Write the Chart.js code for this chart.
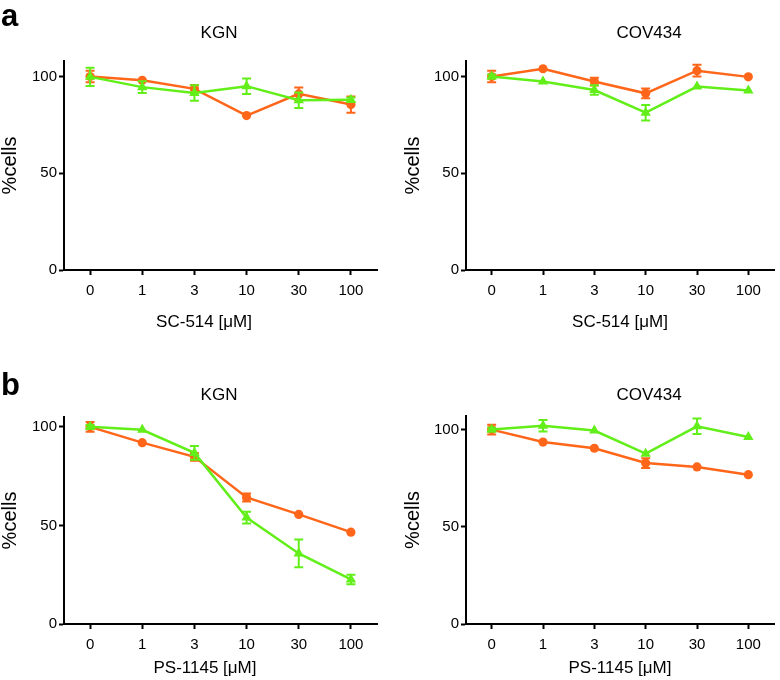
<!DOCTYPE html>
<html>
<head>
<meta charset="utf-8">
<script src="https://cdn.jsdelivr.net/npm/chart.js@4.4.1/dist/chart.umd.min.js"></script>
<style>
  body { margin: 0; background: #fff; font-family: 'Liberation Sans', Arial, sans-serif; }
  #fig { position: relative; width: 780px; height: 680px; overflow: hidden; }
  .panel { position: absolute; }
  .letter { position: absolute; font-weight: bold; font-size: 31px; line-height: 31px; color: #000; }
  .ptitle { position: absolute; width: 200px; text-align: center; font-size: 17px; line-height: 20px; color: #000; white-space: nowrap; }
</style>
</head>
<body>
<div id="fig">
  <canvas class="panel" id="aKGN" width="390" height="345" style="left:0;top:0;width:390px;height:345px;"></canvas>
  <canvas class="panel" id="aCOV" width="390" height="345" style="left:390px;top:0;width:390px;height:345px;"></canvas>
  <canvas class="panel" id="bKGN" width="390" height="335" style="left:0;top:345px;width:390px;height:335px;"></canvas>
  <canvas class="panel" id="bCOV" width="390" height="335" style="left:390px;top:345px;width:390px;height:335px;"></canvas>
  <div class="letter" style="left:1px;top:0px;">a</div>
  <div class="letter" style="left:1px;top:369px;">b</div>
  <div class="ptitle" style="left:119px;top:23px;">KGN</div>
  <div class="ptitle" style="left:549px;top:23px;">COV434</div>
  <div class="ptitle" style="left:119px;top:385px;">KGN</div>
  <div class="ptitle" style="left:549px;top:385px;">COV434</div>
  <div class="ptitle" style="left:104px;top:312px;">SC-514 [μM]</div>
  <div class="ptitle" style="left:520px;top:312px;">SC-514 [μM]</div>
  <div class="ptitle" style="left:105px;top:658px;">PS-1145 [μM]</div>
  <div class="ptitle" style="left:520px;top:658px;">PS-1145 [μM]</div>
</div>
<script>
// ── Data ──
const DOSES = ['0', '1', '3', '10', '30', '100'];
const Y_TICKS = [0, 50, 100];

// a: SC-514
const A_KGN_ORANGE = [100, 98, 93.6, 79.8, 91, 85.5];
const A_KGN_ORANGE_ERR = [3, 0, 2, 0, 3.3, 4.2];
const A_KGN_GREEN = [99.8, 94.5, 91.5, 95, 87.7, 88];
const A_KGN_GREEN_ERR = [4.7, 3, 4, 4, 4, 1.2];

const A_COV_ORANGE = [100, 104, 97.4, 91.3, 103, 99.8];
const A_COV_ORANGE_ERR = [3, 0, 2, 2.5, 3, 0];
const A_COV_GREEN = [100, 97.4, 93, 81.3, 94.8, 92.7];
const A_COV_GREEN_ERR = [1, 0, 2.5, 4, 0, 0];

// b: PS-1145
const B_KGN_ORANGE = [100, 92, 84.8, 64.2, 55.6, 46.6];
const B_KGN_ORANGE_ERR = [2.5, 0, 2, 2, 0, 0];
const B_KGN_GREEN = [100, 98.5, 86.8, 54, 35.8, 22.6];
const B_KGN_GREEN_ERR = [1, 0, 3.5, 3, 7, 2.4];

const B_COV_ORANGE = [100, 93.6, 90.4, 82.8, 80.8, 76.8];
const B_COV_ORANGE_ERR = [2.5, 0, 0, 2.5, 0, 0];
const B_COV_GREEN = [100, 102, 99.5, 87.6, 101.7, 96.2];
const B_COV_GREEN_ERR = [1, 3, 0, 0, 4, 0];

const ORANGE = '#ff6619';
const GREEN = '#62ee18';

Chart.defaults.font.family = "'Liberation Sans', Arial, sans-serif";
Chart.defaults.color = '#000';

// ── Error bars, drawn under each dataset's line ──
const errorBars = {
  id: 'errorBars',
  beforeDatasetDraw(chart, args) {
    const ds = chart.data.datasets[args.index];
    if (!ds.err) return;
    const ctx = chart.ctx, y = chart.scales.y;
    ctx.save();
    ctx.strokeStyle = ds.borderColor;
    ctx.lineWidth = 2;
    args.meta.data.forEach((pt, i) => {
      const e = ds.err[i];
      if (!e) return;
      const hi = y.getPixelForValue(ds.data[i] + e);
      const lo = y.getPixelForValue(ds.data[i] - e);
      ctx.beginPath();
      ctx.moveTo(pt.x, hi); ctx.lineTo(pt.x, lo);
      ctx.moveTo(pt.x - 4.5, hi); ctx.lineTo(pt.x + 4.5, hi);
      ctx.moveTo(pt.x - 4.5, lo); ctx.lineTo(pt.x + 4.5, lo);
      ctx.stroke();
    });
    ctx.restore();
  },
};

function series(data, err, color, style, r) {
  return {
    data, err,
    borderColor: color, backgroundColor: color,
    pointBackgroundColor: color, pointBorderColor: color,
    pointStyle: style, pointRadius: r, pointBorderWidth: 0,
    borderWidth: 2.5, tension: 0, clip: false,
  };
}

function makePanel(id, yMax, orange, orangeErr, green, greenErr, lay) {
  return new Chart(document.getElementById(id), {
    type: 'line',
    data: {
      labels: DOSES,
      // green first so it ends up on top
      datasets: [
        series(green, greenErr, GREEN, 'triangle', 6),
        series(orange, orangeErr, ORANGE, 'circle', 4.6),
      ],
    },
    options: {
      responsive: false, animation: false,
      layout: { padding: { top: lay.top, right: lay.right, left: 0, bottom: lay.bottom } },
      plugins: { legend: { display: false }, tooltip: { enabled: false } },
      scales: {
        x: {
          type: 'category', offset: true,
          grid: { offset: false, drawOnChartArea: false, tickLength: 5, tickWidth: 2, tickColor: '#000' },
          border: { display: true, color: '#000', width: 2 },
          ticks: { color: '#000', font: { size: 15 }, padding: 7, autoSkip: false, maxRotation: 0 },
          afterFit: s => { s.height = 40; },
        },
        y: {
          min: 0, max: yMax,
          afterBuildTicks: s => { s.ticks = Y_TICKS.map(v => ({ value: v })); },
          grid: { drawOnChartArea: false, tickLength: 5, tickWidth: 2, tickColor: '#000' },
          border: { display: true, color: '#000', width: 2 },
          ticks: { color: '#000', font: { size: 15 }, padding: 2 },
          title: { display: true, text: '%cells', color: '#000', font: { size: 20, lineHeight: 1 }, padding: { top: lay.ytp, bottom: 0 } },
          afterFit: s => { s.width = lay.yw; },
        },
      },
    },
    plugins: [errorBars],
  });
}

// ── Panels ──
makePanel('aKGN', 108, A_KGN_ORANGE, A_KGN_ORANGE_ERR, A_KGN_GREEN, A_KGN_GREEN_ERR,
  { top: 61, right: 13, bottom: 35, yw: 64, ytp: 0 });
makePanel('aCOV', 108, A_COV_ORANGE, A_COV_ORANGE_ERR, A_COV_GREEN, A_COV_GREEN_ERR,
  { top: 61, right: 2, bottom: 35, yw: 76, ytp: 13.5 });
makePanel('bKGN', 105, B_KGN_ORANGE, B_KGN_ORANGE_ERR, B_KGN_GREEN, B_KGN_GREEN_ERR,
  { top: 72, right: 13, bottom: 16, yw: 64, ytp: 0 });
makePanel('bCOV', 107, B_COV_ORANGE, B_COV_ORANGE_ERR, B_COV_GREEN, B_COV_GREEN_ERR,
  { top: 71, right: 2, bottom: 16, yw: 76, ytp: 13.5 });
</script>
</body>
</html>
